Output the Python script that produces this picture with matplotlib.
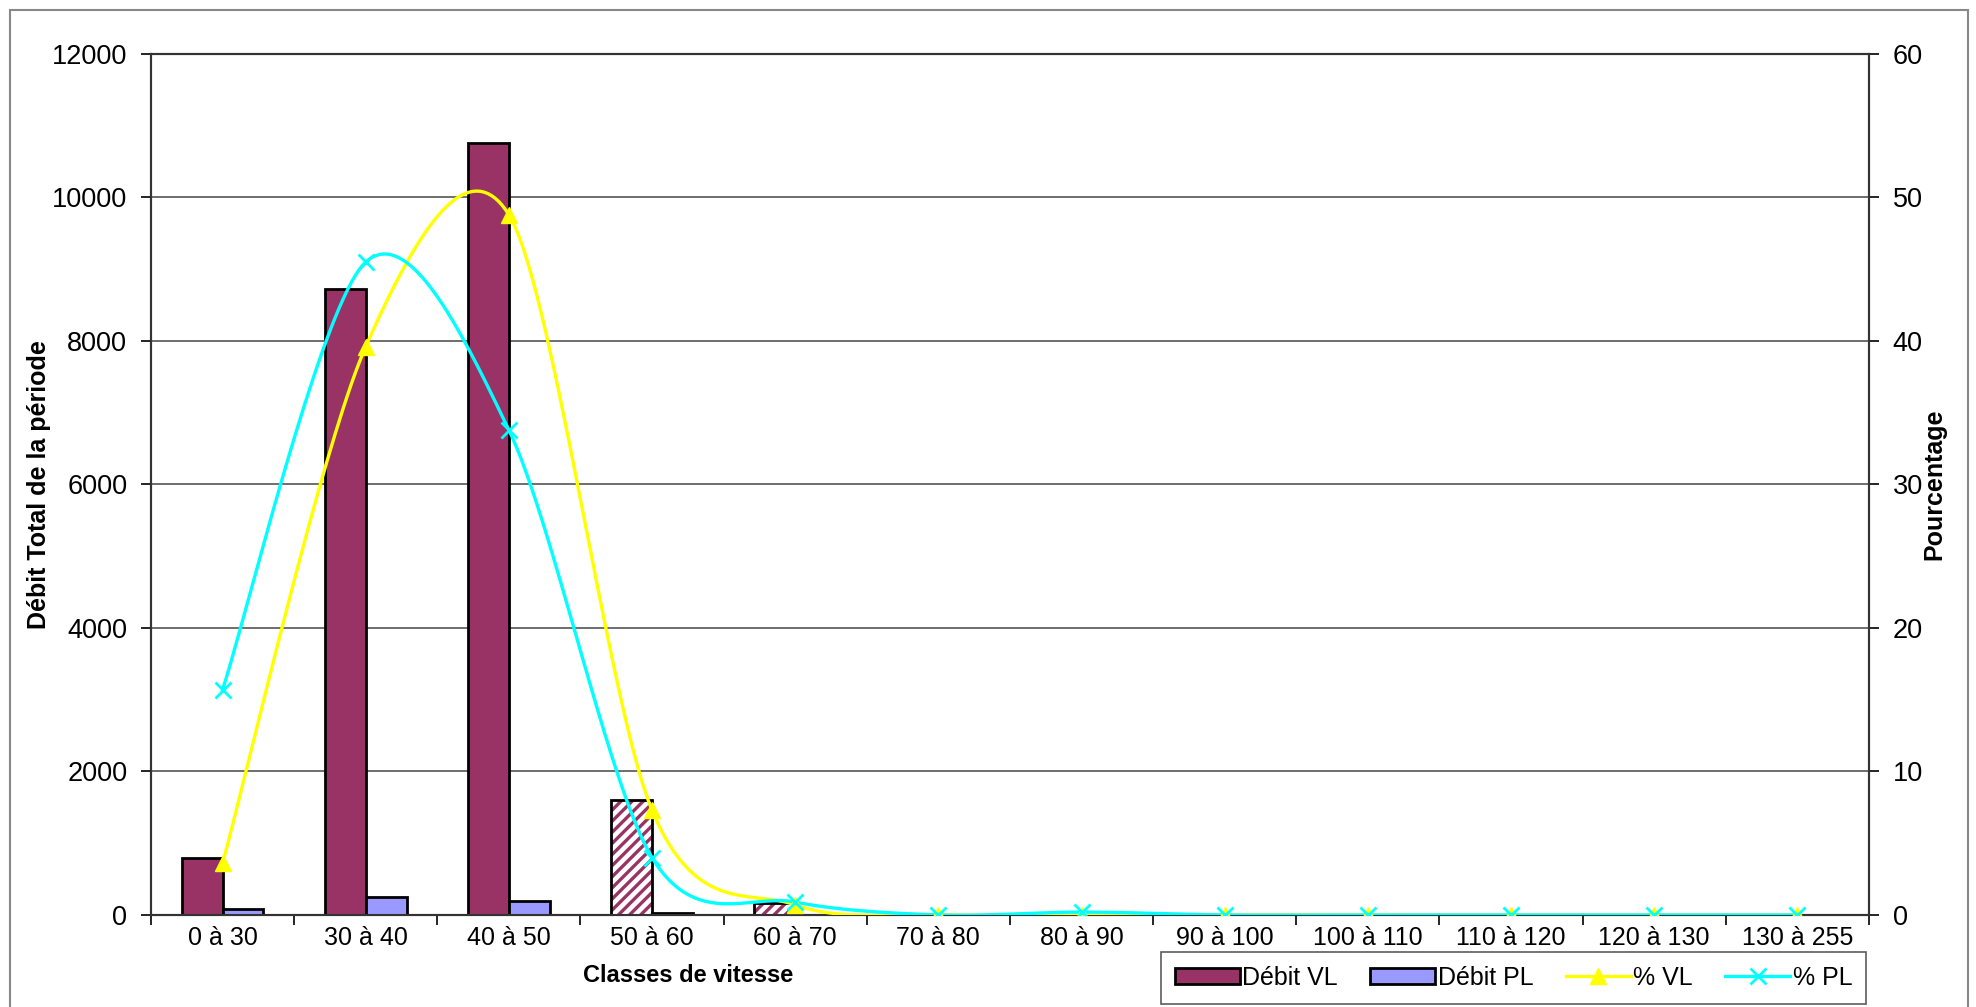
import numpy as np
import matplotlib
matplotlib.use('Agg')
import matplotlib.pyplot as plt
from matplotlib.patches import Patch, Rectangle
from matplotlib.lines import Line2D

plt.rcParams['font.family'] = ['Liberation Sans', 'DejaVu Sans']
plt.rcParams['hatch.linewidth'] = 2.4

# data
classes = ['0 à 30', '30 à 40', '40 à 50', '50 à 60', '60 à 70', '70 à 80',
           '80 à 90', '90 à 100', '100 à 110', '110 à 120', '120 à 130', '130 à 255']
debit_vl = [790, 8730, 10760, 1600, 160, 5, 2, 0, 0, 0, 0, 0]
debit_pl = [87, 253, 188, 22, 5, 0, 1, 0, 0, 0, 0, 0]
pct_vl = [3.6, 39.6, 48.8, 7.3, 0.7, 0.02, 0.01, 0, 0, 0, 0, 0]
pct_pl = [15.7, 45.5, 33.8, 4.0, 0.9, 0.0, 0.2, 0, 0, 0, 0, 0]
hatched = ['50 à 60', '60 à 70']  # classes drawn with a striped pattern

VL_COLOR = '#993366'
PL_COLOR = '#9999FF'


def smooth_curve(x, y, n=40, k=6.5):
    # Catmull-Rom style smoothing, like the spreadsheet's "smoothed line"
    x = np.asarray(x, float)
    y = np.asarray(y, float)
    xs, ys = [], []
    for i in range(len(x) - 1):
        p0 = (x[i - 1], y[i - 1]) if i > 0 else (x[i], y[i])
        p1 = (x[i], y[i])
        p2 = (x[i + 1], y[i + 1])
        p3 = (x[i + 2], y[i + 2]) if i + 2 < len(x) else (x[i + 1], y[i + 1])
        t = np.linspace(0, 1, n)
        c1 = (p1[0] + (p2[0] - p0[0]) / k, p1[1] + (p2[1] - p0[1]) / k)
        c2 = (p2[0] - (p3[0] - p1[0]) / k, p2[1] - (p3[1] - p1[1]) / k)
        bx = (1 - t) ** 3 * p1[0] + 3 * (1 - t) ** 2 * t * c1[0] + 3 * (1 - t) * t ** 2 * c2[0] + t ** 3 * p2[0]
        by = (1 - t) ** 3 * p1[1] + 3 * (1 - t) ** 2 * t * c1[1] + 3 * (1 - t) * t ** 2 * c2[1] + t ** 3 * p2[1]
        xs.extend(bx)
        ys.extend(by)
    return np.array(xs), np.array(ys)


def main():
    fig = plt.figure(figsize=(19.76, 10.07), dpi=100)
    ax = fig.add_axes([0.0764, 0.0914, 0.8694, 0.855])
    ax2 = ax.twinx()

    x = np.arange(len(classes))
    w = 0.286

    for i, c in enumerate(classes):
        if c in hatched:
            ax.bar(x[i] - w / 2, debit_vl[i], w, color='white', edgecolor=VL_COLOR,
                   hatch='///', linewidth=0, zorder=3)
            ax.bar(x[i] - w / 2, debit_vl[i], w, fill=False, edgecolor='black',
                   linewidth=2, zorder=4)
        else:
            ax.bar(x[i] - w / 2, debit_vl[i], w, color=VL_COLOR, edgecolor='black',
                   linewidth=2, zorder=3)
    ax.bar(x + w / 2, debit_pl, w, color=PL_COLOR, edgecolor='black', linewidth=2, zorder=3)

    ax.set_xlim(-0.5, len(classes) - 0.5)
    ax.set_ylim(0, 12000)
    ax.set_yticks(np.arange(0, 12001, 2000))
    ax.yaxis.grid(True, color='#555555', linewidth=1.2)
    ax.set_axisbelow(True)
    ax.set_xticks(x)
    ax.set_xticklabels(classes, fontsize=18)
    ax.set_xticks(np.arange(-0.5, len(classes), 1), minor=True)
    ax.tick_params(axis='x', which='major', length=0, pad=8)
    ax.tick_params(axis='x', which='minor', length=7, width=1.2, direction='out')
    ax.tick_params(axis='y', labelsize=19.5, length=7, width=1.2, direction='out', pad=10)
    ax.set_ylabel('Débit Total de la période', fontsize=18, fontweight='bold', labelpad=1)

    sx, sy = smooth_curve(x, pct_vl)
    ax2.plot(sx, sy, color='#FFFF00', linewidth=2.4, zorder=5)
    ax2.plot(x, pct_vl, linestyle='none', marker='^', markersize=12, color='#FFFF00', zorder=6)
    sx, sy = smooth_curve(x, pct_pl)
    ax2.plot(sx, sy, color='#00FFFF', linewidth=2.4, zorder=5)
    ax2.plot(x, pct_pl, linestyle='none', marker='x', markersize=12, markeredgewidth=2,
             color='#00FFFF', zorder=6)

    ax2.set_ylim(0, 60)
    ax2.set_yticks(np.arange(0, 61, 10))
    ax2.tick_params(axis='y', labelsize=19.5, length=7, width=1.2, direction='out', pad=10)
    ax2.set_ylabel('Pourcentage', fontsize=18, fontweight='bold', labelpad=0)

    for a in (ax, ax2):
        for s in a.spines.values():
            s.set_color('#333333')
            s.set_linewidth(1.5)

    fig.text(0.348, 0.031, 'Classes de vitesse', fontsize=17, fontweight='bold',
             ha='center', va='center')

    handles = [Patch(facecolor=VL_COLOR, edgecolor='black', linewidth=2),
               Patch(facecolor=PL_COLOR, edgecolor='black', linewidth=2),
               Line2D([], [], color='#FFFF00', marker='^', markersize=12, linewidth=2.4),
               Line2D([], [], color='#00FFFF', marker='x', markersize=12, markeredgewidth=2,
                      linewidth=2.4)]
    leg = fig.legend(handles, ['Débit VL', 'Débit PL', '% VL', '% PL'], ncol=4,
                     loc='center', bbox_to_anchor=(0.766, 0.029), fontsize=18,
                     frameon=True, fancybox=False, handlelength=2.6, handleheight=0.6,
                     handletextpad=0.1, columnspacing=1.3, borderpad=0.55)
    leg.get_frame().set_edgecolor('#333333')
    leg.get_frame().set_linewidth(1.2)

    # outer chart border
    fig.add_artist(Rectangle((0.005, -0.01), 0.991, 1.0, transform=fig.transFigure,
                             fill=False, edgecolor='#888888', linewidth=1.5))

    fig.savefig('out.png', dpi=100)


if __name__ == '__main__':
    main()
